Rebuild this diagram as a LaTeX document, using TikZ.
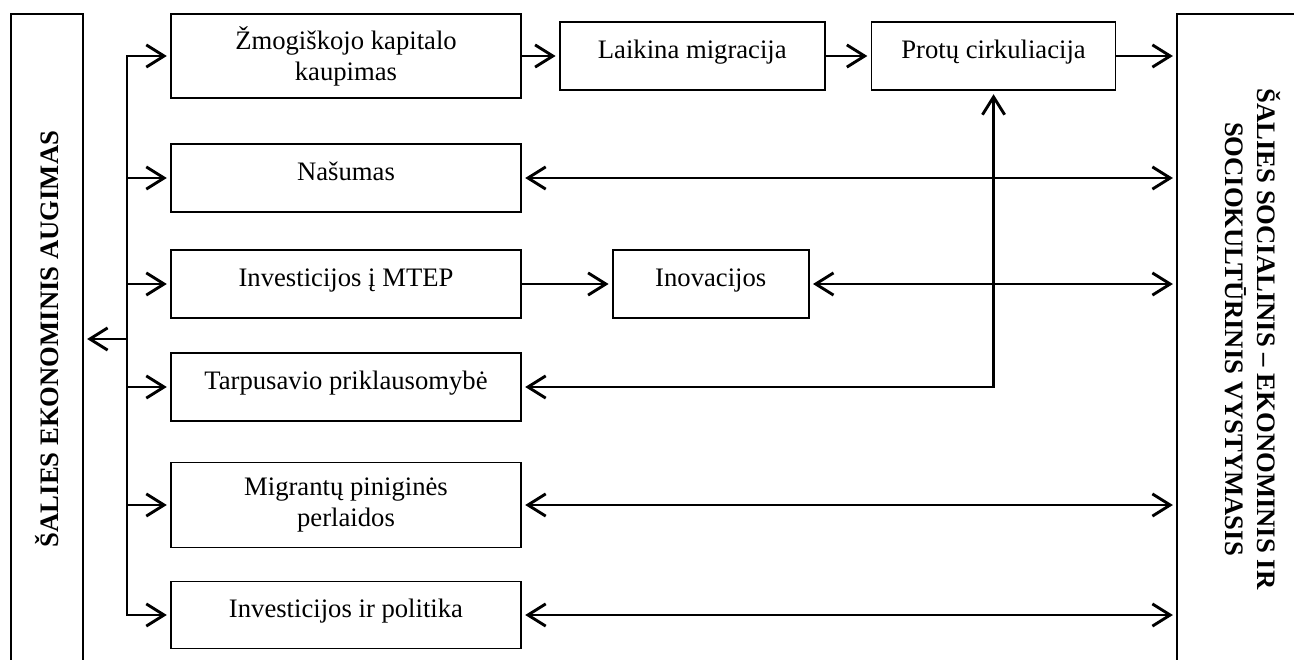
\documentclass[tikz,border=0pt]{standalone}
\usepackage{fontspec}
\setmainfont{Liberation Serif}
\usetikzlibrary{arrows.meta,positioning}
\tikzset{
	every node/.style={
		font=\fontsize{12pt}{14pt}\selectfont
	},
	blokas/.style={
		shape=rectangle,
		minimum width=157.5pt,
		minimum height=30.6pt,
		align=center,
		draw,
		line width=0.8pt,
	},
	vienas/.style={
		blokas,
		text height=8pt,
		text depth=6pt,
	},
	sritis/.style={
		shape=rectangle,
		minimum width=292.5pt,
		align=center,
		draw,
		line width=0.7pt,
		font=\fontsize{12pt}{14.5pt}\selectfont\bfseries,
	},
	myarrow/.style={-{Straight Barb[length=8pt,width=10pt]},line width=1.3pt,shorten >=1.5pt},
	myarrow2/.style={{Straight Barb[length=8pt,width=10pt]}-{Straight Barb[length=8pt,width=10pt]},line width=1.3pt,shorten >=1.5pt,shorten <=1.5pt},
}
\begin{document}
\begin{tikzpicture}[x=0.45pt,y=-0.45pt]
		\useasboundingbox (0,0) rectangle (1294,659);
		
		\node[sritis, rotate=90, minimum height=32.4pt] (augimas) at (47,339) {ŠALIES EKONOMINIS AUGIMAS};
		\node[sritis, rotate=-90, minimum height=68.4pt] (vystymas) at (1253,339) {ŠALIES SOCIALINIS – EKONOMINIS IR\\SOCIOKULTŪRINIS VYSTYMASIS};
		
		\node[blokas, minimum height=37.8pt] (kaupimas) at (346,56) {Žmogiškojo kapitalo\\kaupimas};
		\node[vienas] (nasumas) at (346,178) {Našumas};
		\node[vienas] (mtep) at (346,284) {Investicijos į MTEP};
		\node[vienas] (tarpusavio) at (346,387) {Tarpusavio priklausomybė};
		\node[blokas, minimum height=38.25pt] (perlaidos) at (346,505) {Migrantų piniginės\\perlaidos};
		\node[vienas, minimum height=30.15pt] (politika) at (346,615) {Investicijos ir politika};
		
		\node[vienas, minimum width=119.25pt] (laikina) [right=16.65pt of kaupimas] {Laikina migracija};
		\node[vienas, minimum width=109.8pt] (protu) [right=20.25pt of laikina] {Protų cirkuliacija};
		\node[vienas, minimum width=88.2pt] (inovacijos) [right=40.5pt of mtep] {Inovacijos};
		
		% kamienas
		\coordinate (kamienas) at (127,339);
		\draw[myarrow] (politika.west -| kamienas) |- (kaupimas.west);
		\draw[myarrow] (kaupimas.west -| kamienas) |- (politika.west);
		\foreach \n in {nasumas,mtep,tarpusavio,perlaidos}
			\draw[myarrow] (\n.west -| kamienas) -- (\n.west);
		\draw[myarrow] (kamienas) -- (augimas.south);
		
		\draw[myarrow] (kaupimas) -- (laikina);
		\draw[myarrow] (laikina) -- (protu);
		\draw[myarrow] (protu.east) -- (protu.east -| vystymas.south);
		\draw[myarrow] (mtep) -- (inovacijos);
		\foreach \n in {nasumas,inovacijos,perlaidos,politika}
			\draw[myarrow2] (\n.east) -- (\n.east -| vystymas.south);
		\draw[myarrow2] (tarpusavio.east) -| (protu.south);
		
\end{tikzpicture}
\end{document}
